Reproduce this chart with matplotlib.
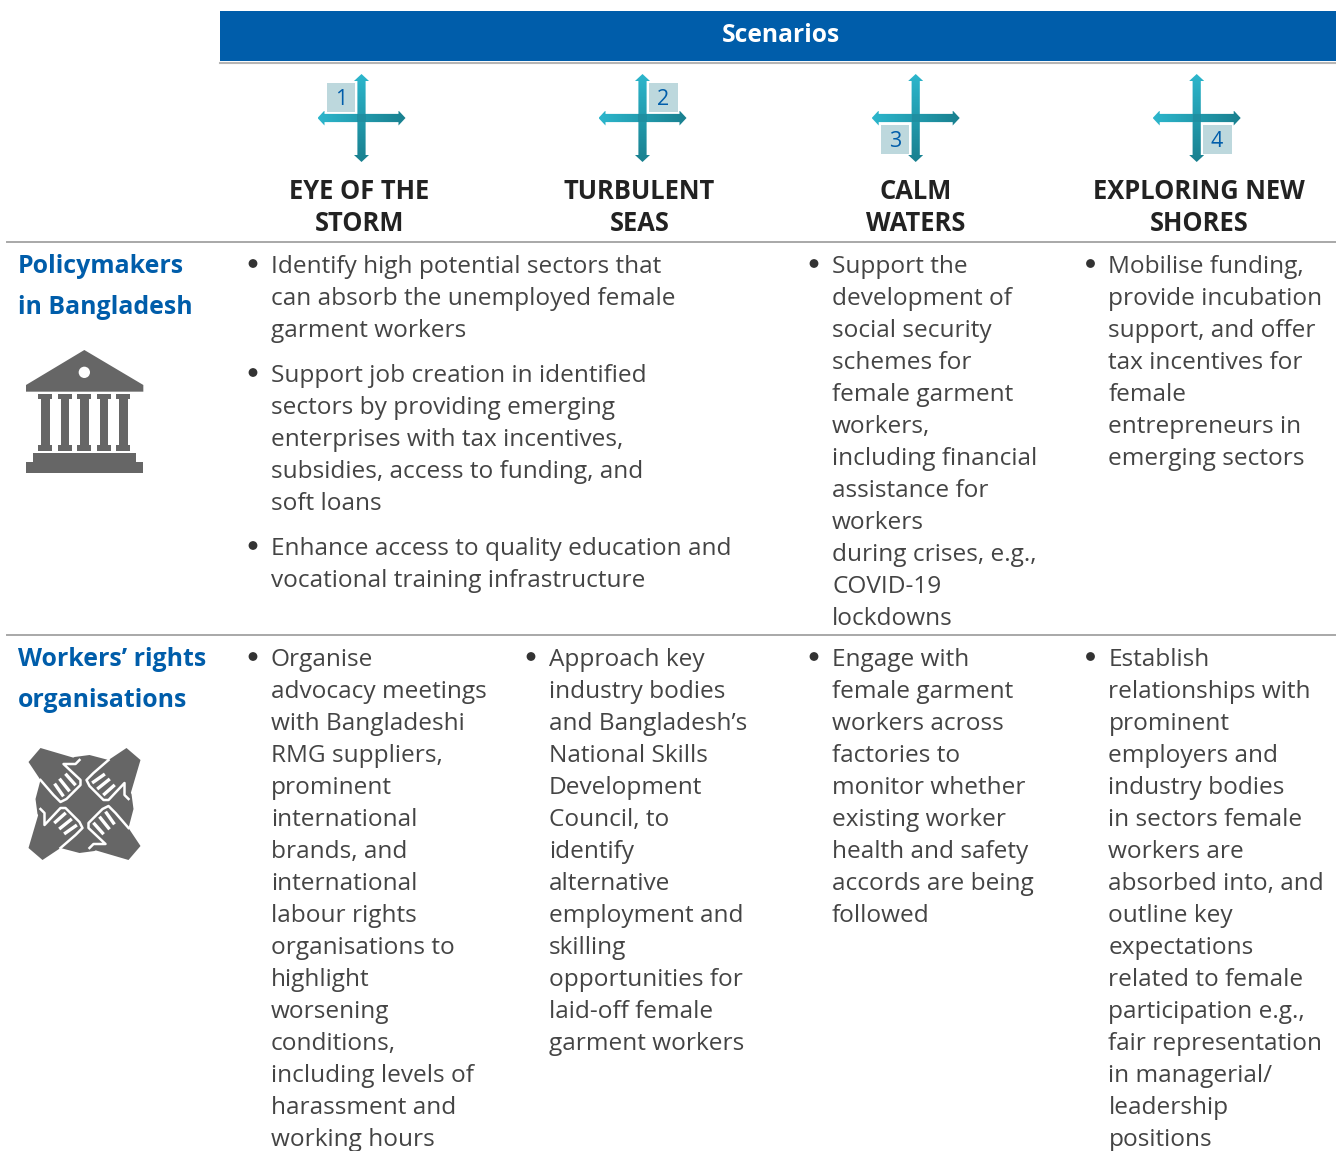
import matplotlib
matplotlib.use('Agg')
import matplotlib.pyplot as plt
import numpy as np
from matplotlib.patches import Polygon, Circle, Rectangle

plt.rcParams['font.family'] = ['Open Sans', 'DejaVu Sans']

BLUE = '#005DAA'
GREY = '#666666'
TEXT = '#444444'

scenario_title = 'Scenarios'
scenario_numbers = ['1', '2', '3', '4']
scenario_names = [['EYE OF THE', 'STORM'], ['TURBULENT', 'SEAS'], ['CALM', 'WATERS'], ['EXPLORING NEW', 'SHORES']]
row_names = [['Policymakers', 'in Bangladesh'], ['Workers\u2019 rights', 'organisations']]

policy_eye_turbulent = [
    ['Identify high potential sectors that', 'can absorb the unemployed female', 'garment workers'],
    ['Support job creation in identified', 'sectors by providing emerging', 'enterprises with tax incentives,',
     'subsidies, access to funding, and', 'soft loans'],
    ['Enhance access to quality education and', 'vocational training infrastructure'],
]
policy_calm = ['Support the', 'development of', 'social security', 'schemes for', 'female garment', 'workers,',
               'including financial', 'assistance for', 'workers', 'during crises, e.g.,', 'COVID-19', 'lockdowns']
policy_shores = ['Mobilise funding,', 'provide incubation', 'support, and offer', 'tax incentives for', 'female',
                 'entrepreneurs in', 'emerging sectors']
workers_eye = ['Organise', 'advocacy meetings', 'with Bangladeshi', 'RMG suppliers,', 'prominent', 'international',
               'brands, and', 'international', 'labour rights', 'organisations to', 'highlight', 'worsening',
               'conditions,', 'including levels of', 'harassment and', 'working hours']
workers_turbulent = ['Approach key', 'industry bodies', 'and Bangladesh\u2019s', 'National Skills', 'Development',
                     'Council, to', 'identify', 'alternative', 'employment and', 'skilling', 'opportunities for',
                     'laid-off female', 'garment workers']
workers_calm = ['Engage with', 'female garment', 'workers across', 'factories to', 'monitor whether', 'existing worker',
                'health and safety', 'accords are being', 'followed']
workers_shores = ['Establish', 'relationships with', 'prominent', 'employers and', 'industry bodies',
                  'in sectors female', 'workers are', 'absorbed into, and', 'outline key', 'expectations',
                  'related to female', 'participation e.g.,', 'fair representation', 'in managerial/', 'leadership',
                  'positions']

fig = plt.figure(figsize=(13.36, 11.51), dpi=100)
ax = fig.add_axes([0, 0, 1, 1])
ax.set_xlim(0, 1336)
ax.set_ylim(1151, 0)
ax.axis('off')

FS = 17.6
LH = 32


def bullet_block(x, y, lines):
    ax.add_patch(Circle((x - 18, y - 9.5), 4.4, fc='#333333', ec='none'))
    for i, line in enumerate(lines):
        ax.text(x, y + i * LH, line, fontsize=FS, color=TEXT, va='baseline')


def gradient_poly(pts, c0, c1, vertical):
    pts = np.array(pts)
    g = np.linspace(0, 1, 64)
    c0 = np.array(matplotlib.colors.to_rgb(c0))
    c1 = np.array(matplotlib.colors.to_rgb(c1))
    img = c0 + (c1 - c0) * g[:, None]
    img = img[:, None, :] if vertical else img[None, :, :]
    ext = (pts[:, 0].min(), pts[:, 0].max(), pts[:, 1].max(), pts[:, 1].min())
    im = ax.imshow(img, extent=ext, aspect='auto', zorder=3, interpolation='bilinear')
    patch = Polygon(pts, transform=ax.transData, fc='none', ec='none')
    ax.add_patch(patch)
    im.set_clip_path(patch)


def cross(cx, cy):
    r, w, hw, hl = 44, 4.1, 7.5, 7
    gradient_poly([(cx - r, cy), (cx - r + hl, cy - hw), (cx - r + hl, cy - w), (cx + r - hl, cy - w),
                   (cx + r - hl, cy - hw), (cx + r, cy), (cx + r - hl, cy + hw), (cx + r - hl, cy + w),
                   (cx - r + hl, cy + w), (cx - r + hl, cy + hw)], '#2cb6cc', '#19808f', False)
    gradient_poly([(cx, cy - r), (cx + hw, cy - r + hl), (cx + w, cy - r + hl), (cx + w, cy + r - hl),
                   (cx + hw, cy + r - hl), (cx, cy + r), (cx - hw, cy + r - hl), (cx - w, cy + r - hl),
                   (cx - w, cy - r + hl), (cx - hw, cy - r + hl)], '#2cb6cc', '#19808f', True)
    ax.add_patch(Rectangle((cx - w, cy - w), 2 * w, 2 * w, fc='#1f8fa1', ec='none', zorder=4))


def number_box(x, y, label):
    ax.add_patch(Rectangle((x, y), 28.5, 28.5, fc='#bdd8dd', ec='none', zorder=4))
    ax.text(x + 14, y + 16, label, fontsize=15.5, color=BLUE, ha='center', va='center', zorder=5)


def building(ox, oy):
    def p(pts):
        return [(ox + a / 3, oy + b / 3) for a, b in pts]
    ax.add_patch(Polygon(p([(253, 60), (430, 165), (430, 185), (78, 185), (78, 165)]), fc=GREY, ec='none'))
    ax.add_patch(Circle((ox + 253 / 3, oy + 127 / 3), 17 / 3, fc='white', ec='none'))
    for c in [136, 195, 253, 312, 370]:
        ax.add_patch(Polygon(p([(c - 21, 193), (c + 21, 193), (c + 21, 208), (c + 13, 208), (c + 13, 345),
                                (c + 21, 345), (c + 21, 362), (c - 21, 362), (c - 21, 345), (c - 13, 345),
                                (c - 13, 208), (c - 21, 208)]), fc=GREY, ec='none'))
    ax.add_patch(Polygon(p([(100, 370), (408, 370), (408, 395), (430, 395), (430, 428), (78, 428), (78, 395),
                            (100, 395)]), fc=GREY, ec='none'))


def hands(cx, cy):
    hand = np.array([(-56, -42), (-44, -56), (-10, -46), (-5, -44), (-9, -40), (-21, -40), (-4, -24), (-4, -19),
                     (-18, -5), (-24, -2), (-31, -9), (-44, -24)])
    outline = hand[3:]
    fingers = np.array([[(-29, -19), (-22, -9)], [(-24, -24), (-16, -14)], [(-18, -29), (-10, -20)]])
    blob = np.array([(-10, -47), (5, -49), (24, -44)])
    rot = np.array([[0, -1], [1, 0]])
    blob_pts = []
    for k in range(4):
        blob_pts.extend(blob + (cx, cy))
        blob = blob @ rot.T
    ax.add_patch(Polygon(blob_pts, fc=GREY, ec='none', zorder=1))
    for k in range(4):
        ax.add_patch(Polygon(hand + (cx, cy), fc=GREY, ec='none', zorder=2))
        ax.plot(outline[:, 0] + cx, outline[:, 1] + cy, color='white', lw=1.8, zorder=3)
        for seg in fingers:
            ax.plot(seg[:, 0] + cx, seg[:, 1] + cy, color='white', lw=2.4, zorder=3)
        hand = hand @ rot.T
        outline = outline @ rot.T
        fingers = fingers @ rot.T


# header band and rules
ax.add_patch(Rectangle((220, 11), 1116, 50, fc=BLUE, ec='none'))
ax.plot([220, 1336], [62.5, 62.5], color='#b5b5b5', lw=1.5)
ax.plot([7, 1336], [242, 242], color='#a8a8a8', lw=1.4)
ax.plot([7, 1336], [635, 635], color='#a8a8a8', lw=1.4)
ax.text(780.5, 35.5, scenario_title, fontsize=17.7, fontweight='bold', color='white', ha='center', va='center')

# scenario icons
cross_x = [361.5, 642.5, 915.7, 1196.7]
box_pos = [(326.7, 83.3), (649, 83.3), (880.7, 125.3), (1203, 125.3)]
for cx, (bx, by), num in zip(cross_x, box_pos, scenario_numbers):
    number_box(bx, by, num)
    cross(cx, 118)

name_x = [359, 639.5, 915.5, 1199]
for x, name in zip(name_x, scenario_names):
    ax.text(x, 199, name[0], fontsize=18.4, fontweight='bold', color='#222222', ha='center', va='baseline')
    ax.text(x, 231, name[1], fontsize=18.4, fontweight='bold', color='#222222', ha='center', va='baseline')

# row labels
for y, name in zip([273, 666], row_names):
    ax.text(17.5, y, name[0], fontsize=17.9, fontweight='bold', color=BLUE, va='baseline')
    ax.text(17.5, y + 41, name[1], fontsize=17.9, fontweight='bold', color=BLUE, va='baseline')

building(0, 330)
hands(84.5, 804)

# policymakers row
y = 273
for block in policy_eye_turbulent:
    bullet_block(271, y, block)
    y += len(block) * LH + 13
bullet_block(832, 273, policy_calm)
bullet_block(1108.5, 273, policy_shores)

# workers row
bullet_block(271, 666, workers_eye)
bullet_block(549, 666, workers_turbulent)
bullet_block(832, 666, workers_calm)
bullet_block(1108.5, 666, workers_shores)

ax.set_xlim(0, 1336)
ax.set_ylim(1151, 0)
fig.savefig('out.png', dpi=100)
